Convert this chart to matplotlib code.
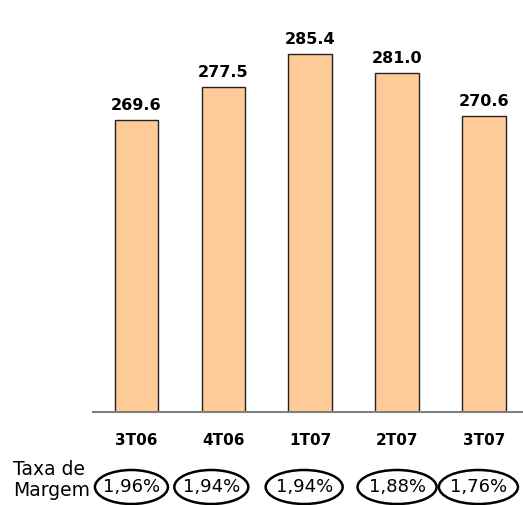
import matplotlib.pyplot as plt
from matplotlib.patches import Ellipse

# -----------------------------
# Data
# -----------------------------
quarters = ['3T06', '4T06', '1T07', '2T07', '3T07']
values = [269.6, 277.5, 285.4, 281.0, 270.6]
margins = ['1,96%', '1,94%', '1,94%', '1,88%', '1,76%']

# -----------------------------
# Figure layout (pixels -> fractions)
# -----------------------------
W, H, DPI = 523, 505, 100
fig = plt.figure(figsize=(W / DPI, H / DPI), dpi=DPI)
ax = fig.add_axes([93 / W, (H - 412) / H, 1 - 93 / W, 412 / H])

x = list(range(len(quarters)))
ax.bar(x, values, width=0.5, color='#FFCC99', edgecolor='#222222', linewidth=1.0)

ax.set_xlim(-0.5, 4.45)
ax.set_ylim(200, 298.3)

for xi, v in zip(x, values):
    ax.annotate(f'{v:.1f}', xy=(xi, v), xytext=(0, 7), textcoords='offset pixels',
                ha='center', va='bottom', fontsize=11.5, fontweight='bold')

# axis styling: only the baseline
for side in ['left', 'right', 'top']:
    ax.spines[side].set_visible(False)
ax.spines['bottom'].set_color('#808080')
ax.spines['bottom'].set_linewidth(1.5)
ax.set_yticks([])
ax.set_xticks(x)
ax.set_xticklabels(quarters, fontsize=11, fontweight='bold')
ax.tick_params(axis='x', length=0, pad=15)

# -----------------------------
# Margin rate row with ellipses
# -----------------------------
px = 86.85  # pixels per x unit
shift_px = [-5, -12, -6, 0, -5.5]
width_px = [73, 74, 77, 79, 79]
trans = ax.get_xaxis_transform()
yc = (412 - 487) / 412
for xi, m, s, w in zip(x, margins, shift_px, width_px):
    cx = xi + s / px
    e = Ellipse((cx, yc), w / px, 34 / 412, transform=trans, clip_on=False,
                fill=False, edgecolor='black', linewidth=1.8)
    ax.add_patch(e)
    ax.text(cx, yc, m, transform=trans, ha='center', va='center', fontsize=13)

fig.text(13 / W, 1 - 480 / H, 'Taxa de\nMargem', ha='left', va='center',
         fontsize=13.5, linespacing=1.1)

fig.savefig('out.png', dpi=DPI)
